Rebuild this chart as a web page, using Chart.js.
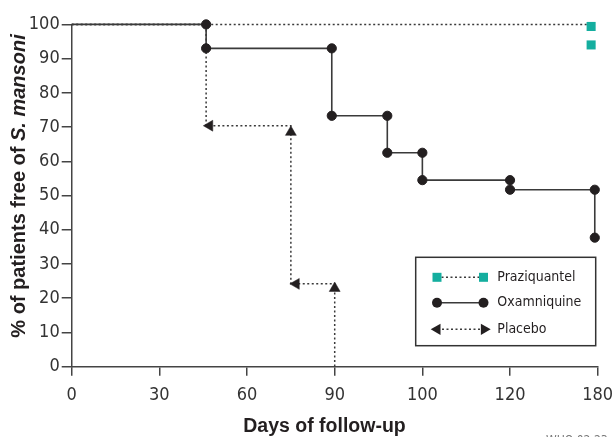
<!DOCTYPE html>
<html>
<head>
<meta charset="utf-8">
<script src="https://cdn.jsdelivr.net/npm/chart.js@4.4.0/dist/chart.umd.min.js"></script>
<style>
    html, body { margin: 0; padding: 0; background: #fff; }
    #wrap { width: 614px; height: 437px; position: relative; }
</style>
</head>
<body>
<div id="wrap"><canvas id="chartCanvas"></canvas></div>
<script>
// tick labels of the (evenly spaced) day axis and the percent axis
const dayTicks = [0, 30, 60, 90, 100, 120, 180];
const pctTicks = [0, 10, 20, 30, 40, 50, 60, 70, 80, 90, 100];

const seriesNames = ['Praziquantel', 'Oxamniquine', 'Placebo'];

// Oxamniquine step curve (day, % free)
const oxaDays = [0, 46, 46, 89, 89, 96, 96, 100, 100, 120, 120, 178, 178];
const oxaPct = [100, 100, 93, 93, 73.3, 73.3, 62.5, 62.5, 54.5, 54.5, 51.7, 51.7, 37.7];

// Praziquantel: dotted line at 100 and the two end squares
const prazDays = [0, 175.5];
const prazPct = [100, 100];
const prazMarkDays = [175.5, 175.5];
const prazMarkPct = [99.4, 94];

// Placebo step curve and its arrow heads
const placDays = [0, 46, 46, 75, 75, 90, 90];
const placPct = [100, 100, 70.4, 70.4, 24.2, 24.2, 0];
const placMarkDays = [47.2, 75, 76.8, 90];
const placMarkPct = [70.4, 68.5, 24.2, 22.9];

const TEAL = '#14ae9f';
const INK = '#231f20';
const LINE = '#3a3a3a';
const tickFont = "'DejaVu Sans Condensed', 'Liberation Sans Narrow', sans-serif";
const titleFont = "'Liberation Sans', Arial, sans-serif";

// the day axis is evenly spaced between its tick labels
function dayPos(d) {
    for (let i = 1; i < dayTicks.length; i++) {
        if (d <= dayTicks[i]) {
            return i - 1 + (d - dayTicks[i - 1]) / (dayTicks[i] - dayTicks[i - 1]);
        }
    }
    return dayTicks.length - 1;
}

function toPoints(days, pcts) {
    return days.map((d, i) => ({ x: dayPos(d), y: pcts[i] }));
}

const titlesAndLegend = {
    id: 'titlesAndLegend',
    afterDraw(chart) {
        const ctx = chart.ctx;
        ctx.save();
        ctx.fillStyle = '#231f20';

        // y title with italic species name
        const part1 = '% of patients free of ';
        const part2 = 'S. mansoni';
        ctx.font = 'bold 20px ' + titleFont;
        const w1 = ctx.measureText(part1).width;
        ctx.font = 'italic bold 20px ' + titleFont;
        const w2 = ctx.measureText(part2).width;
        ctx.save();
        ctx.translate(25, 186);
        ctx.rotate(-Math.PI / 2);
        ctx.textBaseline = 'alphabetic';
        ctx.textAlign = 'left';
        ctx.font = 'bold 20px ' + titleFont;
        ctx.fillText(part1, -(w1 + w2) / 2, 0);
        ctx.font = 'italic bold 20px ' + titleFont;
        ctx.fillText(part2, -(w1 + w2) / 2 + w1, 0);
        ctx.restore();

        // x title
        ctx.font = 'bold 19.5px ' + titleFont;
        ctx.textAlign = 'center';
        ctx.textBaseline = 'alphabetic';
        ctx.fillText('Days of follow-up', 324.5, 431.5);

        // source code, cut by the bottom edge
        ctx.font = '12px ' + tickFont;
        ctx.fillStyle = '#777';
        ctx.textAlign = 'left';
        ctx.textBaseline = 'top';
        ctx.fillText('WHO 02.23', 546, 435);

        // legend box
        ctx.strokeStyle = '#333';
        ctx.lineWidth = 1.5;
        ctx.strokeRect(415.7, 257.3, 180, 88.4);

        const rows = [277.3, 302.7, 329.3];
        const xa = 437, xb = 483.5;

        // Praziquantel
        ctx.setLineDash([2, 2.5]);
        ctx.strokeStyle = LINE;
        ctx.beginPath(); ctx.moveTo(xa, rows[0]); ctx.lineTo(xb, rows[0]); ctx.stroke();
        ctx.setLineDash([]);
        ctx.fillStyle = TEAL;
        ctx.fillRect(xa - 4.5, rows[0] - 4.5, 9, 9);
        ctx.fillRect(xb - 4.5, rows[0] - 4.5, 9, 9);

        // Oxamniquine
        ctx.beginPath(); ctx.moveTo(xa, rows[1]); ctx.lineTo(xb, rows[1]); ctx.stroke();
        ctx.fillStyle = INK;
        ctx.beginPath(); ctx.arc(xa, rows[1], 5, 0, Math.PI * 2); ctx.fill();
        ctx.beginPath(); ctx.arc(xb, rows[1], 5, 0, Math.PI * 2); ctx.fill();

        // Placebo
        ctx.setLineDash([2, 2.5]);
        ctx.beginPath(); ctx.moveTo(433, rows[2]); ctx.lineTo(488, rows[2]); ctx.stroke();
        ctx.setLineDash([]);
        ctx.beginPath();
        ctx.moveTo(430.7, rows[2]); ctx.lineTo(440.5, rows[2] - 5.6); ctx.lineTo(440.5, rows[2] + 5.6);
        ctx.closePath(); ctx.fill();
        ctx.beginPath();
        ctx.moveTo(490.7, rows[2]); ctx.lineTo(480.9, rows[2] - 5.6); ctx.lineTo(480.9, rows[2] + 5.6);
        ctx.closePath(); ctx.fill();

        ctx.fillStyle = '#231f20';
        ctx.font = '14px ' + tickFont;
        ctx.textAlign = 'left';
        ctx.textBaseline = 'middle';
        seriesNames.forEach((name, i) => ctx.fillText(name, 497.3, rows[i]));

        ctx.restore();
    }
};

const ctx = document.getElementById('chartCanvas').getContext('2d');
new Chart(ctx, {
    type: 'line',
    data: {
        datasets: [{
            label: seriesNames[1],
            data: toPoints(oxaDays, oxaPct),
            borderColor: LINE,
            borderWidth: 1.6,
            pointRadius: oxaDays.map((d, i) => i === 0 ? 0 : 4.6),
            pointBackgroundColor: INK,
            pointBorderColor: INK,
            pointBorderWidth: 1,
            clip: false
        }, {
            label: seriesNames[0] + ' marks',
            data: toPoints(prazMarkDays, prazMarkPct),
            showLine: false,
            pointStyle: 'rect',
            pointRadius: 6.4,
            pointBackgroundColor: TEAL,
            pointBorderWidth: 0,
            borderColor: TEAL,
            clip: false
        }, {
            label: seriesNames[2] + ' marks',
            data: toPoints(placMarkDays, placMarkPct),
            showLine: false,
            pointStyle: 'triangle',
            pointRotation: [-90, 0, -90, 0],
            pointRadius: 6.3,
            pointBackgroundColor: INK,
            pointBorderColor: INK,
            pointBorderWidth: 0.5,
            clip: false
        }, {
            label: seriesNames[0],
            data: toPoints(prazDays, prazPct),
            borderColor: LINE,
            borderWidth: 1.5,
            borderDash: [2, 2.5],
            pointRadius: 0,
            clip: false
        }, {
            label: seriesNames[2],
            data: toPoints(placDays, placPct),
            borderColor: LINE,
            borderWidth: 1.5,
            borderDash: [2, 2.5],
            pointRadius: 0,
            clip: false
        }]
    },
    options: {
        responsive: true,
        maintainAspectRatio: false,
        animation: false,
        layout: {
            padding: { top: 24.4, right: 16.3, left: 0, bottom: 0 }
        },
        plugins: {
            legend: { display: false },
            tooltip: { enabled: false }
        },
        elements: { line: { tension: 0 } },
        scales: {
            x: {
                type: 'linear',
                min: 0,
                max: dayTicks.length - 1,
                afterBuildTicks(scale) {
                    scale.ticks = dayTicks.map((d, i) => ({ value: i }));
                },
                afterFit(scale) {
                    scale.height = 70.3;
                    scale.paddingLeft = 0;
                    scale.paddingRight = 0;
                },
                ticks: {
                    callback: (v) => String(dayTicks[v]),
                    color: '#333',
                    font: { family: tickFont, size: 18 },
                    padding: 9,
                    maxRotation: 0
                },
                grid: {
                    drawOnChartArea: false,
                    drawTicks: true,
                    tickLength: 9,
                    color: '#444',
                    lineWidth: 1.5
                },
                border: { color: '#444', width: 1.5 }
            },
            y: {
                min: 0,
                max: 100,
                afterBuildTicks(scale) {
                    scale.ticks = pctTicks.map(v => ({ value: v }));
                },
                afterFit(scale) {
                    scale.width = 71.7;
                    scale.paddingTop = 0;
                    scale.paddingBottom = 0;
                },
                ticks: {
                    color: '#333',
                    font: { family: tickFont, size: 18 },
                    padding: 2
                },
                grid: {
                    drawOnChartArea: false,
                    drawTicks: true,
                    tickLength: 10,
                    color: '#444',
                    lineWidth: 1.5
                },
                border: { color: '#444', width: 1.5 }
            }
        }
    },
    plugins: [titlesAndLegend]
});
</script>
</body>
</html>
